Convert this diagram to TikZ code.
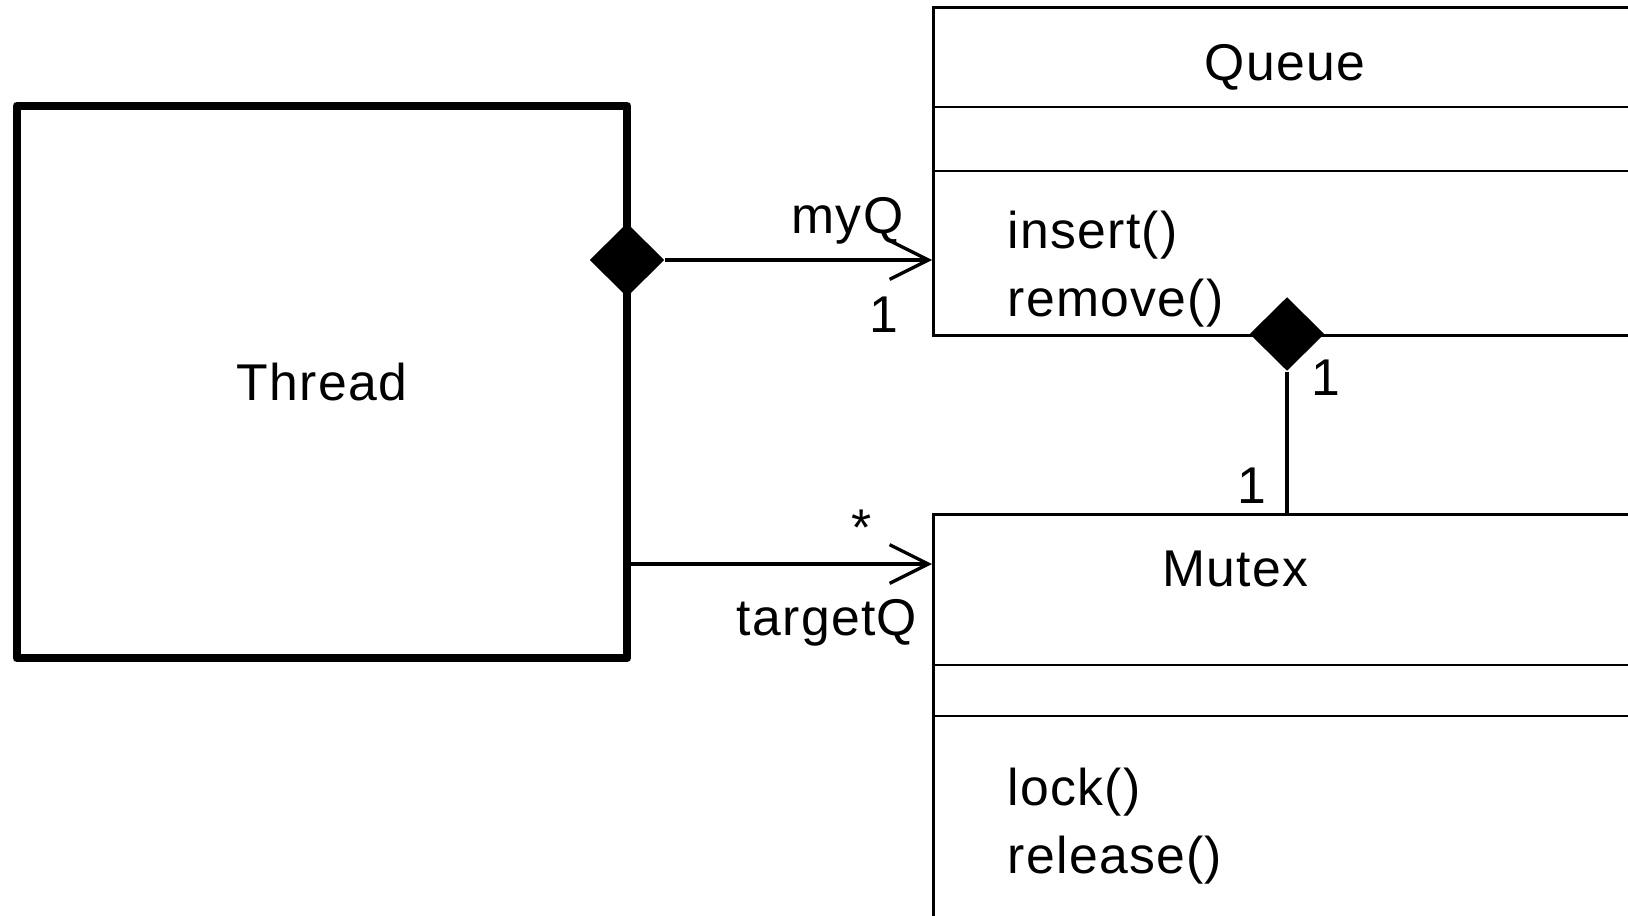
\documentclass[tikz,border=0pt]{standalone}
\usepackage{fontspec}
\setmainfont[LetterSpace=2.5]{Liberation Sans}
\usetikzlibrary{arrows.meta,shapes.geometric}
\tikzstyle{umltext}=[
	font=\fontsize{14.7}{17}\selectfont,
	inner sep=0pt
]
\tikzstyle{active}=[
	rectangle,
	draw,
	line width=2.4pt,
	line join=round,
	minimum width=6.1cm,
	minimum height=5.52cm,
	umltext
]
\tikzstyle{umlclass}=[
	rectangle,
	draw,
	line width=0.9pt,
	anchor=north west,
	minimum width=8cm,
	inner sep=0pt
]
\tikzstyle{compartment}=[
	line width=0.45pt
]
\tikzstyle{composite}=[
	diamond,
	fill=black,
	inner sep=0pt,
	minimum width=0.75cm,
	minimum height=0.74cm
]
\tikzstyle{association}=[
	->,
	>={Straight Barb[length=11pt,width=11pt]},
	line width=0.95pt
]

\begin{document}
\begin{tikzpicture}[x=0.01cm,y=-0.01cm]
\path[use as bounding box,clip] (0,0) rectangle (1628,915);
% classes
\node [active] (Thread) at (322,382) {Thread};
\node [umlclass, minimum height=3.28cm] (Queue) at (932,6) {};
\draw [compartment] ([yshift=-1.01cm]Queue.north west) -- ([yshift=-1.01cm]Queue.north east);
\draw [compartment] ([yshift=-1.65cm]Queue.north west) -- ([yshift=-1.65cm]Queue.north east);
\node [umltext, anchor=base] (QueueName) at (1285,80) {Queue};
\node [umltext, anchor=base west] (insert) at (1007,248) {insert()};
\node [umltext, anchor=base west] (remove) at (1007,316) {remove()};
\node [umlclass, minimum height=5cm] (Mutex) at (932,513) {};
\draw [compartment] ([yshift=-1.52cm]Mutex.north west) -- ([yshift=-1.52cm]Mutex.north east);
\draw [compartment] ([yshift=-2.03cm]Mutex.north west) -- ([yshift=-2.03cm]Mutex.north east);
\node [umltext, anchor=base] (MutexName) at (1235,586) {Mutex};
\node [umltext, anchor=base west] (lock) at (1007,805) {lock()};
\node [umltext, anchor=base west] (release) at (1007,873) {release()};
% associations
\node [composite] (dQ) at (627,260) {};
\draw [association] (dQ.east) -- (dQ -| Queue.west);
\coordinate (tQ) at (627,564);
\draw [association] (tQ) -- (tQ -| Mutex.west);
\node [composite] (dM) at (1287,334) {};
\draw [line width=0.95pt] (dM.south) -- (dM |- Mutex.north);
% role names and multiplicities
\node [umltext, anchor=base east] (myQ) at (904,233) {myQ};
\node [umltext, anchor=base] (myQone) at (884,332) {1};
\node [umltext, anchor=base] (targetQmany) at (862,545) {*};
\node [umltext, anchor=base] (targetQ) at (827,635) {targetQ};
\node [umltext, anchor=base] (dMone) at (1326,395) {1};
\node [umltext, anchor=base] (Mutexone) at (1252,503) {1};
\end{tikzpicture}
\end{document}
